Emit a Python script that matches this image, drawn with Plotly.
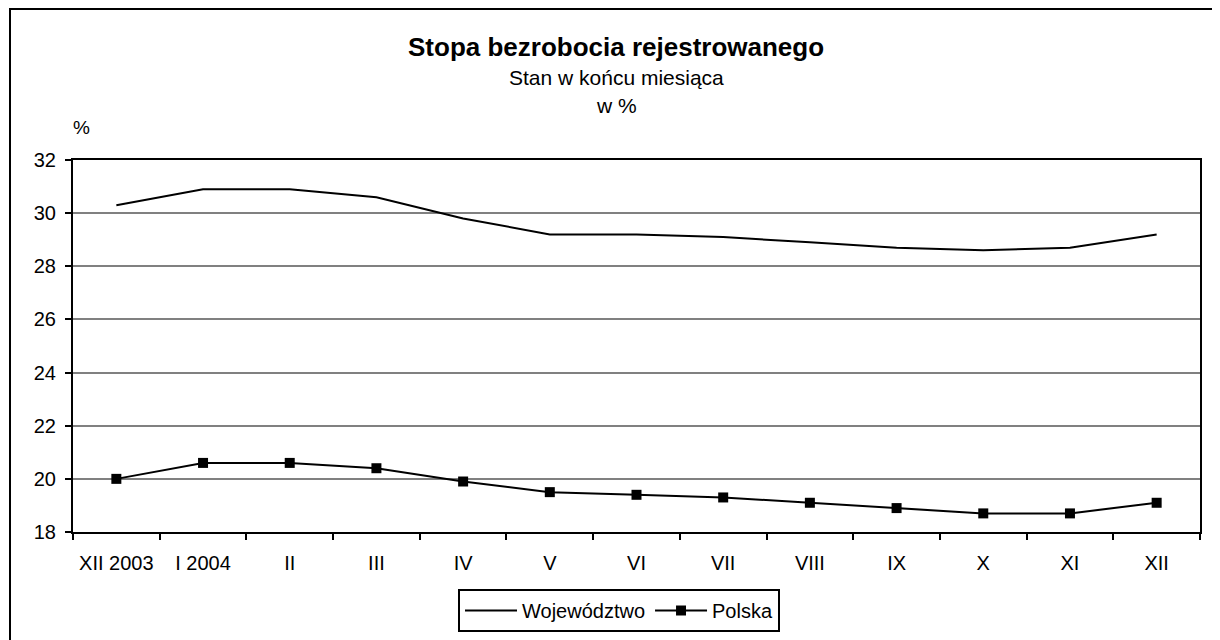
import plotly.graph_objects as go

months = ["XII 2003", "I 2004", "II", "III", "IV", "V", "VI", "VII", "VIII", "IX", "X", "XI", "XII"]
wojewodztwo = [30.3, 30.9, 30.9, 30.6, 29.8, 29.2, 29.2, 29.1, 28.9, 28.7, 28.6, 28.7, 29.2]
polska = [20.0, 20.6, 20.6, 20.4, 19.9, 19.5, 19.4, 19.3, 19.1, 18.9, 18.7, 18.7, 19.1]

FONT = "Liberation Sans, Arial, sans-serif"

fig = go.Figure()
fig.add_trace(go.Scatter(x=months, y=wojewodztwo, name="Województwo", mode="lines",
                         line=dict(color="black", width=2)))
fig.add_trace(go.Scatter(x=months, y=polska, name="Polska", mode="lines+markers",
                         line=dict(color="black", width=2),
                         marker=dict(symbol="square", size=10, color="black")))

# page body has an 8px margin; plot area on screen: x 73..1200, y 160..532
OFF = 8
SX0, SX1, SY0, SY1 = 73, 1200, 160, 532
W, H = 1220, 640
L, R = SX0 - OFF, W - (SX1 - OFF)
T, B = SY0 - OFF, H - (SY1 - OFF)
pw = SX1 - SX0
ph = SY1 - SY0

def px(x):
    return (x - SX0) / pw

def py(y):
    return (SY1 - y) / ph

fig.update_layout(
    width=W, height=H,
    margin=dict(l=L, r=R, t=T, b=B),
    paper_bgcolor="white", plot_bgcolor="white",
    font=dict(family=FONT, size=20, color="black"),
    showlegend=True,
    legend=dict(orientation="h", x=px(619), xanchor="center", y=py(589), yanchor="top",
                bordercolor="black", borderwidth=2, font=dict(size=20),
                itemwidth=52, tracegroupgap=0),
    xaxis=dict(type="category", showgrid=False, showline=True, linecolor="black", linewidth=2,
               mirror=True, ticks="outside", tickson="boundaries", ticklen=6, tickwidth=2,
               tickcolor="black", ticklabelstandoff=12, zeroline=False,
               range=[-0.5, len(months) - 0.5]),
    yaxis=dict(range=[18, 32], dtick=2, showgrid=True, gridcolor="#808080", gridwidth=1.5,
               showline=True, linecolor="black", linewidth=2, mirror=True,
               ticks="outside", ticklen=6, tickwidth=2, tickcolor="black", zeroline=False,
               ticklabelstandoff=5),
)

fig.add_annotation(text="<b>Stopa bezrobocia rejestrowanego</b>", xref="paper", yref="paper",
                   x=px(616), y=py(47), xanchor="center", yanchor="middle", showarrow=False,
                   font=dict(size=26, family=FONT))
fig.add_annotation(text="Stan w końcu miesiąca", xref="paper", yref="paper",
                   x=px(616), y=py(78), xanchor="center", yanchor="middle", showarrow=False,
                   font=dict(size=21, family=FONT))
fig.add_annotation(text="w %", xref="paper", yref="paper",
                   x=px(616), y=py(106), xanchor="center", yanchor="middle", showarrow=False,
                   font=dict(size=21, family=FONT))
fig.add_annotation(text="%", xref="paper", yref="paper",
                   x=px(81), y=py(127), xanchor="center", yanchor="middle", showarrow=False,
                   font=dict(size=19, family=FONT))

fig.add_shape(type="rect", xref="paper", yref="paper",
              x0=px(10), x1=px(1226), y0=py(9), y1=py(660),
              line=dict(color="black", width=2), fillcolor="rgba(0,0,0,0)", layer="above")

fig.write_html("out.html")
